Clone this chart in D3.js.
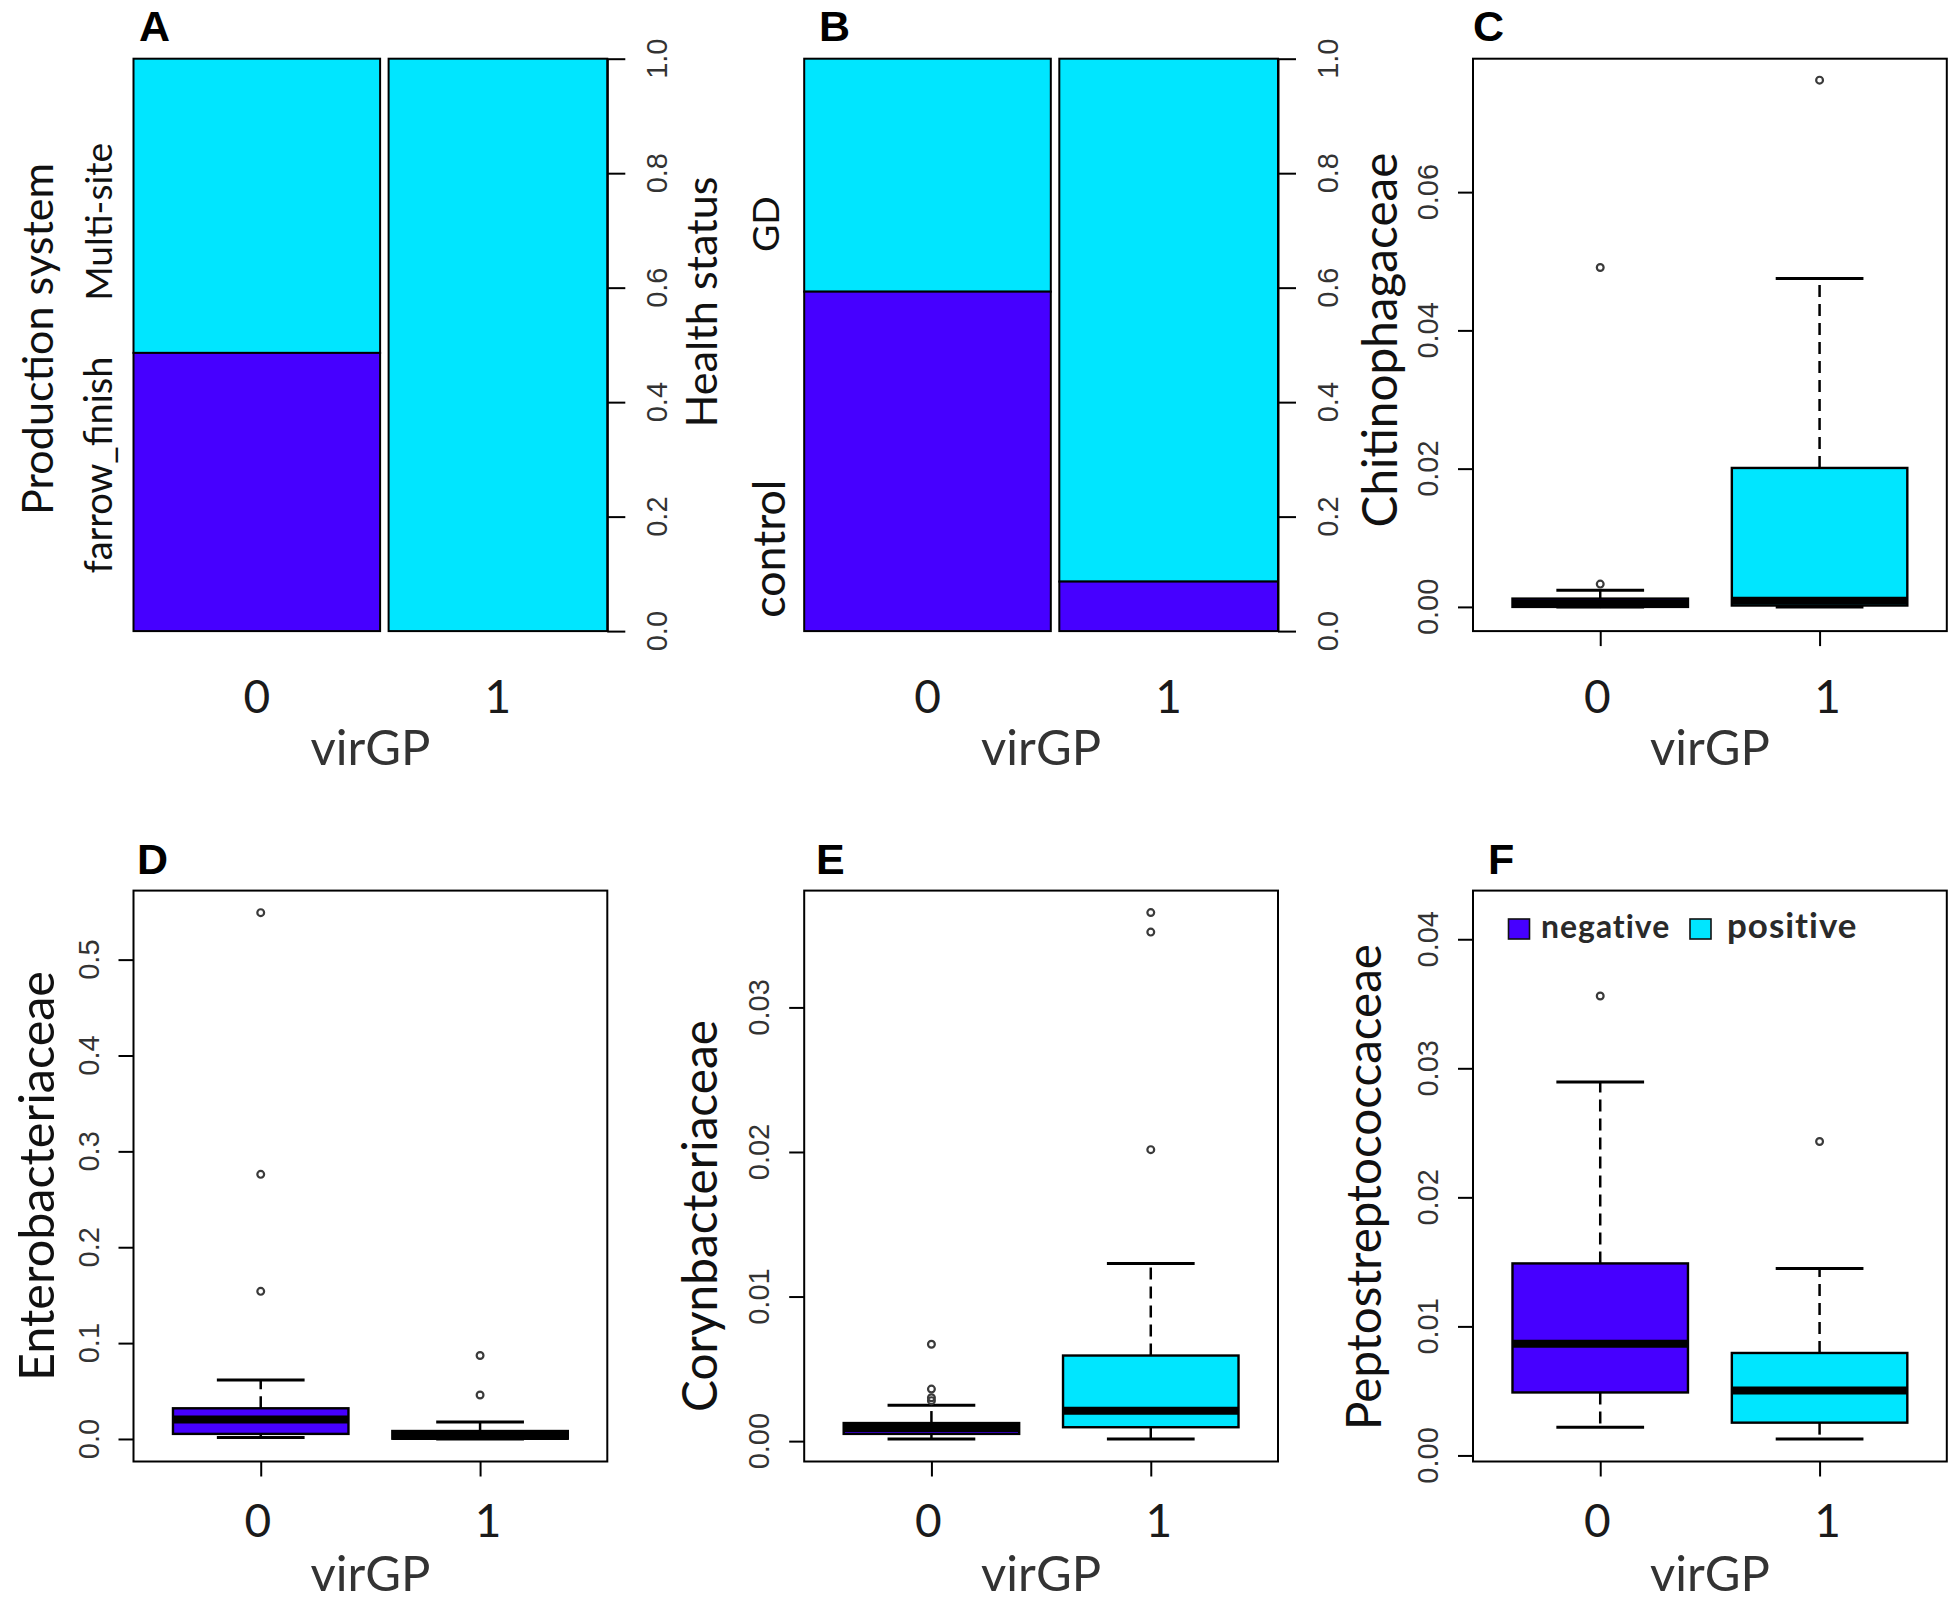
<!DOCTYPE html>
<html><head><meta charset="utf-8">
<script src="https://cdn.jsdelivr.net/npm/d3@7"></script>
<style>body{margin:0;background:#fff}</style>
</head><body>
<svg id="chart" width="1955" height="1603" xmlns="http://www.w3.org/2000/svg"></svg>
<script>
// ================= DATA =================
const groups = ["0", "1"];                 // virGP levels
const legendLabels = ["negative", "positive"];
const virGPShare = [0.53, 0.47];           // share of samples per virGP level (spine widths)

// Panel A – production system (proportion farrow_finish per virGP level)
const prodLabels = ["farrow_finish", "Multi-site"];
const prodFarrowFinish = [0.486, 0.0];
// Panel B – health status (proportion control per virGP level)
const healthLabels = ["control", "GD"];
const healthControl = [0.593, 0.0865];
const proportionTicks = [0, 0.2, 0.4, 0.6, 0.8, 1.0];

// Box-plot statistics per virGP level: [lower whisker, Q1, median, Q3, upper whisker]
const chitinoStats = [[0.0000, 0.0000, 0.0005, 0.0012, 0.0024], [0.0000, 0.0002, 0.0009, 0.0201, 0.0475]];
const chitinoOutliers = [[0.0491, 0.0033], [0.0762]];
const chitinoTicks = [0, 0.02, 0.04, 0.06];
const chitinoLimits = [-0.0035, 0.0793];

const enteroStats = [[0.0016, 0.0053, 0.0202, 0.0320, 0.0615], [0.0000, 0.0003, 0.0030, 0.0083, 0.0176]];
const enteroOutliers = [[0.549, 0.276, 0.154], [0.0871, 0.0459]];
const enteroTicks = [0, 0.1, 0.2, 0.3, 0.4, 0.5];
const enteroLimits = [-0.0235, 0.572];

const corynStats = [[0.00015, 0.0005, 0.0009, 0.00125, 0.00248], [0.00015, 0.00096, 0.0021, 0.00592, 0.01229]];
const corynOutliers = [[0.0067, 0.0036, 0.0030, 0.0028], [0.03656, 0.03521, 0.02016]];
const corynTicks = [0, 0.01, 0.02, 0.03];
const corynLimits = [-0.00141, 0.03808];

const peptoStats = [[0.00219, 0.00488, 0.00865, 0.01488, 0.02893], [0.00127, 0.00254, 0.00504, 0.00794, 0.01449]];
const peptoOutliers = [[0.0356], [0.02433]];
const peptoTicks = [0, 0.01, 0.02, 0.03, 0.04];
const peptoLimits = [-0.00047, 0.04377];

// ================= STYLE / LAYOUT =================
const PURPLE = "#4600ff", CYAN = "#00e6ff";
const groupColors = [PURPLE, CYAN];
const SANS = "Lato, 'Open Sans', sans-serif";
const TICKFONT = "'Liberation Sans', Arial, sans-serif";
const colLeft = [133.5, 804.2, 1473];
const panelW = 473.8;
const rows = [
  {top: 58.7, bottom: 631.1, digitBase: 713, xlabBase: 765, letterBase: 41},
  {top: 890.6, bottom: 1461.5, digitBase: 1537, xlabBase: 1591, letterBase: 874}
];

const svg = d3.select("#chart");

function fit(sel, target) {
  const len = sel.node().getComputedTextLength();
  const fs = parseFloat(sel.attr("font-size"));
  if (len > 0) sel.attr("font-size", (fs * target / len).toFixed(2));
  return sel;
}
function vtext(g, cx, cy, str, target, opts = {}) {
  const t = g.append("text")
    .attr("transform", `translate(${cx},${cy}) rotate(-90)`)
    .attr("text-anchor", "middle").attr("dy", "0.35em")
    .attr("font-family", opts.family || SANS)
    .attr("font-size", opts.size || 40)
    .attr("fill", opts.fill || "#111")
    .text(str);
  if (target) fit(t, target);
  return t;
}
function letter(x, y, s) {
  svg.append("text").attr("x", x).attr("y", y)
    .attr("font-family", "'Liberation Sans', Arial, sans-serif")
    .attr("font-weight", "bold").attr("font-size", 43).attr("fill", "#000").text(s);
}
function xTitle(g, cx, base) {
  const t = g.append("text").attr("x", cx).attr("y", base).attr("text-anchor", "middle")
    .attr("font-family", SANS).attr("font-size", 50).attr("fill", "#333").text("virGP");
  fit(t, 120);
}
function digit(g, cx, base, s) {
  g.append("text").attr("x", cx).attr("y", base).attr("text-anchor", "middle")
    .attr("font-family", SANS).attr("font-size", 46).attr("fill", "#1a1a1a").text(s);
}

// ---------- spine (mosaic) panel ----------
function spinePanel(col, rowIdx, bottomProp, labels, cfg) {
  const row = rows[rowIdx];
  const left = colLeft[col], right = left + panelW;
  const g = svg.append("g");
  const gap = 8.5;
  const y = d3.scaleLinear().domain([0, 1]).range([row.bottom, row.top]);
  const cum = d3.cumsum([0, ...virGPShare]);
  const xs = d3.scaleLinear().domain([0, 1]).range([left, right - gap]);
  const bars = groups.map((gname, i) => ({
    name: gname,
    x0: xs(cum[i]) + gap * i,
    x1: xs(cum[i + 1]) + gap * i,
    p: bottomProp[i]
  }));
  bars.forEach(b => {
    g.append("rect").attr("x", b.x0).attr("y", y(1)).attr("width", b.x1 - b.x0)
      .attr("height", y(b.p) - y(1)).attr("fill", CYAN).attr("stroke", "#000").attr("stroke-width", 2);
    if (b.p > 0) {
      g.append("rect").attr("x", b.x0).attr("y", y(b.p)).attr("width", b.x1 - b.x0)
        .attr("height", y(0) - y(b.p)).attr("fill", PURPLE).attr("stroke", "#000").attr("stroke-width", 2);
    }
    digit(g, (b.x0 + b.x1) / 2, row.digitBase, b.name);
  });
  // right axis
  const ax = g.append("g").attr("transform", `translate(${right},0)`)
    .call(d3.axisRight(y).tickValues(proportionTicks).tickSize(18).tickSizeOuter(0).tickFormat(""));
  ax.selectAll("path,line").attr("stroke", "#000").attr("stroke-width", 2);
  proportionTicks.forEach(t => vtext(g, right + 50, y(t), d3.format(".1f")(t), null,
    {family: TICKFONT, size: 29, fill: "#333"}));
  // labels
  vtext(g, cfg.titleX, cfg.titleY, cfg.title, cfg.titleLen);
  labels.forEach((lab, i) => vtext(g, cfg.catX[i], y(cfg.catPos[i]), lab, cfg.catLen[i]));
  xTitle(g, (left + right) / 2, row.xlabBase);
}

// ---------- box-plot panel ----------
function boxPanel(col, rowIdx, stats, outliers, ticks, limits, cfg) {
  const row = rows[rowIdx];
  const left = colLeft[col], right = left + panelW;
  const g = svg.append("g");
  const x = d3.scaleLinear().domain([0.42, 2.58]).range([left, right]);
  const y = d3.scaleLinear().domain(limits).range([row.bottom, row.top]);
  const boxW = x(0.8) - x(0), capW = x(0.4) - x(0);

  stats.forEach((s, i) => {
    const cx = x(i + 1);
    const [lo, q1, med, q3, hi] = s;
    // whiskers
    g.append("line").attr("x1", cx).attr("x2", cx).attr("y1", y(q3)).attr("y2", y(hi))
      .attr("stroke", "#000").attr("stroke-width", 2.5).attr("stroke-dasharray", "12,7");
    g.append("line").attr("x1", cx).attr("x2", cx).attr("y1", y(q1)).attr("y2", y(lo))
      .attr("stroke", "#000").attr("stroke-width", 2.5).attr("stroke-dasharray", "12,7");
    [lo, hi].forEach(v => g.append("line").attr("x1", cx - capW / 2).attr("x2", cx + capW / 2)
      .attr("y1", y(v)).attr("y2", y(v)).attr("stroke", "#000").attr("stroke-width", 3));
    // box
    g.append("rect").attr("x", cx - boxW / 2).attr("y", y(q3)).attr("width", boxW)
      .attr("height", Math.max(0.5, y(q1) - y(q3))).attr("fill", groupColors[i])
      .attr("stroke", "#000").attr("stroke-width", 2.4);
    g.append("line").attr("x1", cx - boxW / 2).attr("x2", cx + boxW / 2)
      .attr("y1", y(med)).attr("y2", y(med)).attr("stroke", "#000").attr("stroke-width", 8);
    // outliers
    outliers[i].forEach(v => g.append("circle").attr("cx", cx).attr("cy", y(v)).attr("r", 3.4)
      .attr("fill", "none").attr("stroke", "#3a3a3a").attr("stroke-width", 2.2));
    digit(g, cx + (i === 0 ? -3 : 8), row.digitBase, groups[i]);
  });

  // frame
  g.append("rect").attr("x", left).attr("y", row.top).attr("width", panelW)
    .attr("height", row.bottom - row.top).attr("fill", "none").attr("stroke", "#000").attr("stroke-width", 2);
  // axes
  const ay = g.append("g").attr("transform", `translate(${left},0)`)
    .call(d3.axisLeft(y).tickValues(ticks).tickSize(15).tickSizeOuter(0).tickFormat(""));
  ay.select("path").remove();
  ay.selectAll("line").attr("stroke", "#000").attr("stroke-width", 2);
  const fmt = d3.format(cfg.fmt);
  ticks.forEach(t => vtext(g, left - 45, y(t), fmt(t), null, {family: TICKFONT, size: 29, fill: "#333"}));
  const axx = g.append("g").attr("transform", `translate(0,${row.bottom})`)
    .call(d3.axisBottom(x).tickValues([1, 2]).tickSize(15).tickSizeOuter(0).tickFormat(""));
  axx.select("path").remove();
  axx.selectAll("line").attr("stroke", "#000").attr("stroke-width", 2);

  vtext(g, cfg.titleX, cfg.titleY, cfg.title, cfg.titleLen);
  xTitle(g, (left + right) / 2, row.xlabBase);
  return {g, x, y};
}

function draw() {
  spinePanel(0, 0, prodFarrowFinish, prodLabels, {
    title: "Production system", titleX: 38, titleY: 339, titleLen: 352,
    catX: [99, 99], catPos: [0.29, 0.715], catLen: [217, 158]
  });
  spinePanel(1, 0, healthControl, healthLabels, {
    title: "Health status", titleX: 702, titleY: 302, titleLen: 251,
    catX: [769, 766], catPos: [0.144, 0.711], catLen: [138, 56]
  });
  boxPanel(2, 0, chitinoStats, chitinoOutliers, chitinoTicks, chitinoLimits,
    {fmt: ".2f", title: "Chitinophagaceae", titleX: 1380, titleY: 340, titleLen: 375});
  boxPanel(0, 1, enteroStats, enteroOutliers, enteroTicks, enteroLimits,
    {fmt: ".1f", title: "Enterobacteriaceae", titleX: 37, titleY: 1176, titleLen: 410});
  boxPanel(1, 1, corynStats, corynOutliers, corynTicks, corynLimits,
    {fmt: ".2f", title: "Corynbacteriaceae", titleX: 700, titleY: 1216, titleLen: 392});
  boxPanel(2, 1, peptoStats, peptoOutliers, peptoTicks, peptoLimits,
    {fmt: ".2f", title: "Peptostreptococcaceae", titleX: 1364, titleY: 1187, titleLen: 486});

  // legend in F
  const lg = svg.append("g");
  const legX = [1508.5, 1690], legTextX = [1541, 1727], legLen = [129, 131];
  legendLabels.forEach((lab, i) => {
    lg.append("rect").attr("x", legX[i]).attr("y", 919).attr("width", 21).attr("height", 20)
      .attr("fill", groupColors[i]).attr("stroke", "#111").attr("stroke-width", 1.6);
    const t = lg.append("text").attr("x", legTextX[i]).attr("y", 938)
      .attr("font-family", SANS).attr("font-weight", "bold").attr("font-size", 33)
      .attr("fill", "#2a2a2a").attr("letter-spacing", 1).text(lab);
    fit(t, legLen[i]);
  });

  // panel letters
  letter(139, rows[0].letterBase, "A");
  letter(819, rows[0].letterBase, "B");
  letter(1473, rows[0].letterBase, "C");
  letter(137, rows[1].letterBase, "D");
  letter(816, rows[1].letterBase, "E");
  letter(1488, rows[1].letterBase, "F");
}

(document.fonts && document.fonts.ready ? document.fonts.ready : Promise.resolve()).then(draw);
</script>
</body></html>
